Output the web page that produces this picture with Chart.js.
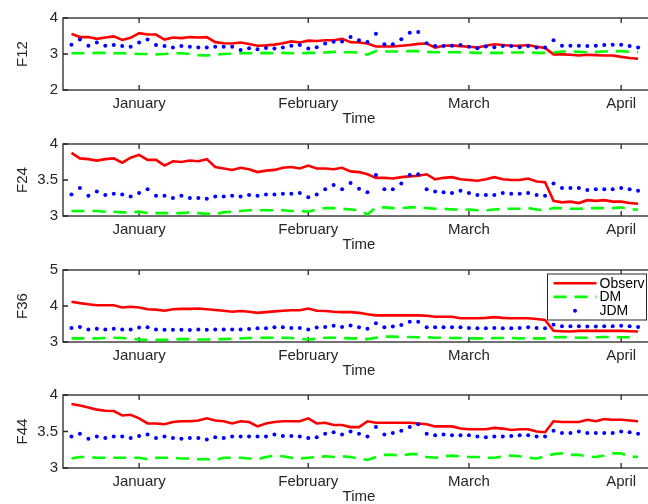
<!DOCTYPE html>
<html>
<head>
<meta charset="utf-8">
<script src="https://cdn.jsdelivr.net/npm/chart.js@4/dist/chart.umd.min.js"></script>
<style>
  html, body { margin: 0; padding: 0; background: #ffffff; width: 648px; height: 504px; overflow: hidden; position: relative; }
  canvas.panel { position: absolute; left: 0; }
</style>
</head>
<body>
<canvas id="p0" class="panel"></canvas>
<canvas id="p1" class="panel"></canvas>
<canvas id="p2" class="panel"></canvas>
<canvas id="p3" class="panel"></canvas>
<script>
// ---- data -------------------------------------------------------------
const monthLabels = ['January', 'February', 'March', 'April'];
const monthTicks  = [8, 28, 47, 65];          // observation index where each month starts
const seriesNames = ['Observ', 'DM', 'JDM'];
const panelNames  = ['F12', 'F24', 'F36', 'F44'];
const yTicks      = [[2, 3, 4], [3, 3.5, 4], [3, 4, 5], [3, 3.5, 4]];

const observF12 = [3.56,3.47,3.47,3.42,3.46,3.49,3.39,3.45,3.58,3.54,3.54,3.40,3.46,3.44,3.47,3.46,3.47,3.33,3.30,3.29,3.32,3.28,3.23,3.24,3.26,3.30,3.35,3.32,3.37,3.36,3.38,3.38,3.42,3.33,3.32,3.29,3.21,3.21,3.21,3.23,3.25,3.28,3.29,3.18,3.23,3.24,3.22,3.20,3.18,3.23,3.27,3.25,3.23,3.23,3.25,3.20,3.17,2.99,2.99,2.98,2.96,2.98,2.97,2.96,2.96,2.92,2.89,2.87];
const dmF12     = [3.02,3.02,3.02,3.03,3.03,3.02,3.02,3.01,3.00,3.00,2.99,3.00,3.02,3.02,3.00,2.97,2.96,2.98,3.00,3.01,3.02,3.02,3.02,3.03,3.02,3.03,3.02,3.02,3.03,3.03,3.04,3.06,3.05,3.05,3.04,2.98,3.08,3.07,3.07,3.07,3.08,3.08,3.06,3.05,3.05,3.05,3.05,3.04,3.03,3.03,3.03,3.03,3.04,3.04,3.05,3.03,3.03,3.04,3.07,3.07,3.06,3.05,3.06,3.07,3.08,3.08,3.06,3.05];
const jdmF12    = [3.26,3.40,3.23,3.32,3.23,3.25,3.22,3.20,3.32,3.40,3.25,3.22,3.18,3.22,3.20,3.18,3.18,3.20,3.20,3.20,3.11,3.16,3.13,3.17,3.15,3.18,3.23,3.25,3.15,3.19,3.29,3.34,3.35,3.47,3.38,3.33,3.56,3.27,3.27,3.41,3.59,3.61,3.30,3.22,3.22,3.23,3.25,3.20,3.16,3.21,3.19,3.22,3.22,3.19,3.22,3.18,3.18,3.38,3.23,3.23,3.23,3.22,3.23,3.25,3.26,3.26,3.22,3.18];

const observF24 = [3.877,3.80,3.79,3.77,3.79,3.80,3.74,3.81,3.85,3.78,3.78,3.70,3.76,3.75,3.77,3.76,3.79,3.68,3.66,3.64,3.67,3.65,3.61,3.63,3.64,3.67,3.68,3.66,3.70,3.66,3.66,3.65,3.67,3.62,3.61,3.58,3.53,3.53,3.52,3.54,3.55,3.56,3.58,3.51,3.53,3.54,3.51,3.50,3.49,3.51,3.54,3.51,3.50,3.50,3.52,3.48,3.47,3.21,3.19,3.20,3.18,3.22,3.21,3.22,3.20,3.20,3.18,3.17];
const dmF24     = [3.07,3.07,3.07,3.07,3.06,3.06,3.05,3.05,3.06,3.04,3.04,3.04,3.04,3.04,3.05,3.04,3.03,3.03,3.05,3.06,3.07,3.08,3.08,3.08,3.08,3.08,3.07,3.07,3.06,3.09,3.11,3.11,3.10,3.09,3.08,3.02,3.12,3.12,3.11,3.11,3.12,3.12,3.11,3.10,3.10,3.09,3.09,3.09,3.08,3.08,3.09,3.10,3.10,3.10,3.11,3.09,3.08,3.11,3.11,3.10,3.10,3.11,3.11,3.11,3.11,3.12,3.09,3.09];
const jdmF24    = [3.30,3.39,3.28,3.34,3.29,3.31,3.30,3.27,3.32,3.37,3.28,3.28,3.25,3.28,3.25,3.25,3.24,3.27,3.27,3.28,3.27,3.29,3.28,3.30,3.30,3.31,3.31,3.32,3.26,3.30,3.37,3.43,3.37,3.46,3.38,3.33,3.57,3.37,3.37,3.45,3.57,3.58,3.37,3.34,3.33,3.32,3.35,3.32,3.29,3.29,3.29,3.32,3.31,3.31,3.32,3.29,3.28,3.45,3.39,3.39,3.39,3.36,3.37,3.37,3.37,3.39,3.37,3.35];

const observF36 = [4.12,4.08,4.05,4.02,4.02,4.02,3.96,3.98,3.96,3.91,3.90,3.87,3.91,3.92,3.92,3.93,3.91,3.89,3.87,3.84,3.86,3.84,3.81,3.83,3.85,3.87,3.88,3.88,3.93,3.87,3.86,3.84,3.83,3.83,3.81,3.77,3.74,3.74,3.74,3.74,3.74,3.74,3.73,3.70,3.70,3.70,3.66,3.66,3.66,3.67,3.69,3.67,3.66,3.66,3.66,3.64,3.61,3.31,3.30,3.29,3.31,3.31,3.31,3.31,3.31,3.31,3.30,3.29];
const dmF36     = [3.10,3.10,3.10,3.10,3.11,3.12,3.11,3.09,3.07,3.06,3.06,3.06,3.07,3.08,3.08,3.07,3.07,3.08,3.08,3.09,3.10,3.11,3.11,3.12,3.12,3.12,3.11,3.09,3.07,3.09,3.12,3.12,3.11,3.10,3.10,3.08,3.12,3.15,3.15,3.14,3.14,3.13,3.13,3.12,3.12,3.11,3.11,3.10,3.10,3.10,3.11,3.11,3.11,3.10,3.10,3.10,3.10,3.13,3.14,3.13,3.12,3.12,3.13,3.14,3.14,3.13,3.13,3.12];
const jdmF36    = [3.39,3.42,3.35,3.37,3.35,3.37,3.35,3.35,3.40,3.41,3.35,3.34,3.34,3.34,3.33,3.35,3.34,3.35,3.35,3.35,3.35,3.36,3.38,3.38,3.41,3.41,3.39,3.39,3.35,3.40,3.42,3.45,3.42,3.46,3.41,3.37,3.52,3.41,3.43,3.47,3.56,3.56,3.41,3.41,3.41,3.41,3.41,3.39,3.38,3.38,3.39,3.38,3.38,3.39,3.41,3.39,3.38,3.48,3.44,3.44,3.44,3.43,3.43,3.44,3.44,3.45,3.44,3.42];

const observF44 = [3.877,3.855,3.83,3.80,3.785,3.78,3.72,3.73,3.68,3.61,3.61,3.60,3.63,3.64,3.64,3.65,3.68,3.65,3.64,3.61,3.64,3.63,3.57,3.61,3.63,3.64,3.64,3.64,3.68,3.61,3.62,3.59,3.59,3.56,3.56,3.64,3.62,3.62,3.62,3.62,3.62,3.61,3.60,3.57,3.57,3.57,3.54,3.53,3.53,3.53,3.55,3.54,3.52,3.53,3.53,3.50,3.49,3.64,3.63,3.63,3.63,3.66,3.64,3.67,3.66,3.66,3.65,3.64];
const dmF44     = [3.13,3.15,3.15,3.14,3.14,3.14,3.14,3.14,3.14,3.12,3.14,3.14,3.14,3.13,3.13,3.12,3.12,3.11,3.14,3.14,3.14,3.13,3.12,3.15,3.17,3.16,3.14,3.13,3.14,3.15,3.16,3.15,3.16,3.15,3.13,3.11,3.15,3.18,3.18,3.17,3.19,3.19,3.15,3.14,3.16,3.17,3.16,3.15,3.15,3.14,3.14,3.16,3.17,3.16,3.14,3.13,3.16,3.19,3.20,3.18,3.18,3.16,3.15,3.17,3.20,3.20,3.16,3.15];
const jdmF44    = [3.43,3.47,3.40,3.43,3.41,3.43,3.43,3.41,3.44,3.46,3.41,3.43,3.41,3.40,3.41,3.41,3.39,3.42,3.41,3.43,3.43,3.43,3.43,3.43,3.46,3.44,3.44,3.43,3.41,3.42,3.47,3.49,3.46,3.50,3.47,3.43,3.56,3.46,3.48,3.51,3.56,3.60,3.47,3.45,3.46,3.45,3.45,3.45,3.43,3.42,3.43,3.43,3.44,3.45,3.45,3.43,3.43,3.51,3.48,3.48,3.50,3.48,3.48,3.48,3.48,3.50,3.49,3.47];

const panelSeries = [
  [observF12, dmF12, jdmF12],
  [observF24, dmF24, jdmF24],
  [observF36, dmF36, jdmF36],
  [observF44, dmF44, jdmF44]
];

// ---- layout -----------------------------------------------------------
const FONT = "'Liberation Sans', Arial, Helvetica, sans-serif";
const INK = '#262626';
const PLOT_LEFT = 63, PLOT_RIGHT = 655, CANVAS_W = 680;
const PAD_TOP = 10, XAXIS_H = 40;
const plotTop = [14, 140, 266, 391];
const plotBottom = [90, 216, 342, 468];
const X_MIN = -1, X_MAX = 69;

Chart.defaults.font.family = FONT;
Chart.defaults.color = INK;

const toPoints = arr => arr.map((v, i) => ({ x: i, y: v }));

// axes box with inward tick marks, drawn under the data
const framePlugin = {
  id: 'frame',
  beforeDatasetsDraw(chart) {
    const { ctx, chartArea: a, scales } = chart;
    ctx.save();
    ctx.strokeStyle = INK;
    ctx.lineWidth = 1.3;
    ctx.strokeRect(a.left, a.top, a.right - a.left, a.bottom - a.top);
    ctx.beginPath();
    scales.x.ticks.forEach(t => {
      const px = scales.x.getPixelForValue(t.value);
      ctx.moveTo(px, a.bottom); ctx.lineTo(px, a.bottom - 5);
      ctx.moveTo(px, a.top);    ctx.lineTo(px, a.top + 5);
    });
    scales.y.ticks.forEach(t => {
      const py = scales.y.getPixelForValue(t.value);
      ctx.moveTo(a.left, py);  ctx.lineTo(a.left + 5, py);
      ctx.moveTo(a.right, py); ctx.lineTo(a.right - 5, py);
    });
    ctx.stroke();
    ctx.restore();
  }
};

// boxed legend in the upper right corner of the plot area
const boxLegendPlugin = {
  id: 'boxLegend',
  afterDatasetsDraw(chart, args, opts) {
    if (!opts.show) return;
    const { ctx, chartArea: a } = chart;
    const left = a.right - 107.5, top = a.top + 4, w = 99, h = 46;
    ctx.save();
    ctx.fillStyle = '#ffffff';
    ctx.fillRect(left, top, w, h);
    ctx.strokeStyle = INK;
    ctx.lineWidth = 1;
    ctx.strokeRect(left, top, w, h);
    const rows = [9.3, 22.9, 36.7];
    const x0 = left + 6, x1 = left + 49;
    chart.data.datasets.forEach((ds, i) => {
      const y = top + rows[i];
      if (ds.showLine === false) {
        ctx.fillStyle = ds.pointBackgroundColor;
        ctx.beginPath();
        ctx.arc((x0 + x1) / 2, y, ds.pointRadius, 0, Math.PI * 2);
        ctx.fill();
      } else {
        ctx.strokeStyle = ds.borderColor;
        ctx.lineWidth = ds.borderWidth;
        ctx.setLineDash(ds.borderDash || []);
        ctx.beginPath();
        ctx.moveTo(x0, y); ctx.lineTo(x1, y);
        ctx.stroke();
        ctx.setLineDash([]);
      }
      ctx.fillStyle = '#000000';
      ctx.font = '14px ' + FONT;
      ctx.textBaseline = 'middle';
      ctx.textAlign = 'left';
      ctx.fillText(ds.label, left + 52, y + 0.5);
    });
    ctx.restore();
  }
};

function makePanel(k) {
  const canvas = document.getElementById('p' + k);
  const H = plotBottom[k] - plotTop[k] + PAD_TOP + XAXIS_H;
  canvas.width = CANVAS_W;
  canvas.height = H;
  canvas.style.top = (plotTop[k] - PAD_TOP) + 'px';
  canvas.style.width = CANVAS_W + 'px';
  canvas.style.height = H + 'px';

  const [obs, dm, jdm] = panelSeries[k];
  const ticksY = yTicks[k];

  new Chart(canvas, {
    type: 'line',
    data: {
      datasets: [
        { label: seriesNames[0], data: toPoints(obs), borderColor: '#ff0000', backgroundColor: '#ff0000',
          borderWidth: 2.6, pointRadius: 0, tension: 0, fill: false, order: 2 },
        { label: seriesNames[1], data: toPoints(dm), borderColor: '#00ff00', backgroundColor: '#00ff00',
          borderWidth: 2.6, borderDash: [13, 8], borderCapStyle: 'butt', pointRadius: 0, tension: 0, fill: false, order: 1 },
        { label: seriesNames[2], data: toPoints(jdm), showLine: false, borderColor: '#0000ff',
          pointBackgroundColor: '#0000ff', pointBorderWidth: 0, pointRadius: 2, order: 0 }
      ]
    },
    options: {
      responsive: false,
      animation: false,
      events: [],
      layout: { padding: { left: 0, top: PAD_TOP, right: CANVAS_W - PLOT_RIGHT, bottom: 0 } },
      plugins: {
        legend: { display: false },
        tooltip: { enabled: false },
        boxLegend: { show: k === 2 }
      },
      scales: {
        x: {
          type: 'linear',
          min: X_MIN, max: X_MAX,
          grid: { display: false, drawTicks: false },
          border: { display: false },
          afterBuildTicks: s => { s.ticks = monthTicks.map(v => ({ value: v })); },
          afterFit: s => { s.height = XAXIS_H; },
          ticks: {
            autoSkip: false, maxRotation: 0, minRotation: 0, padding: 5,
            font: { size: 15, family: FONT }, color: INK,
            callback: v => monthLabels[monthTicks.indexOf(v)]
          },
          title: { display: true, text: 'Time', color: INK, font: { size: 15, family: FONT },
                   padding: { top: 0, bottom: 2 } }
        },
        y: {
          type: 'linear',
          min: ticksY[0], max: ticksY[ticksY.length - 1],
          grid: { display: false, drawTicks: false },
          border: { display: false },
          afterBuildTicks: s => { s.ticks = ticksY.map(v => ({ value: v })); },
          afterFit: s => { s.width = PLOT_LEFT; },
          ticks: { padding: 5, font: { size: 15, family: FONT }, color: INK, callback: v => String(v) },
          title: { display: true, text: panelNames[k], color: INK, font: { size: 15, family: FONT },
                   padding: { top: 14, bottom: 0 } }
        }
      }
    },
    plugins: [framePlugin, boxLegendPlugin]
  });
}

for (let k = 0; k < 4; k++) makePanel(k);
</script>
</body>
</html>
